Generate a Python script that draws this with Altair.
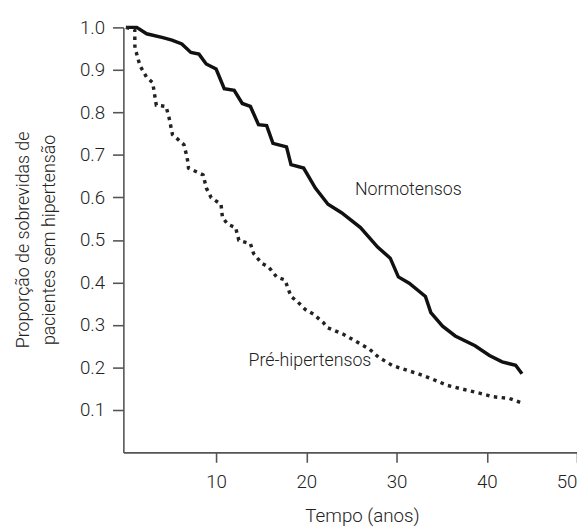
import altair as alt
import pandas as pd

# Normotensos: survival curve corner points (time in years, proportion)
normo_t = [0.0, 1.2, 2.3, 4.1, 5.1, 6.2, 7.2, 8.1, 8.9, 10.0, 10.9, 12.0, 12.9, 13.8, 14.7,
           15.6, 16.3, 17.8, 18.3, 19.7, 21.0, 22.4, 23.9, 26.0, 27.9, 29.3, 30.2, 31.4,
           33.2, 33.8, 35.1, 36.5, 38.7, 40.3, 41.7, 43.2, 43.9]
normo_s = [1.000, 1.000, 0.985, 0.976, 0.970, 0.961, 0.941, 0.937, 0.914, 0.902, 0.856,
           0.852, 0.821, 0.814, 0.771, 0.769, 0.727, 0.719, 0.677, 0.669, 0.622, 0.584,
           0.564, 0.529, 0.483, 0.457, 0.413, 0.398, 0.367, 0.329, 0.297, 0.274, 0.251,
           0.228, 0.213, 0.205, 0.185]

# Pré-hipertensos
pre_t = [0.0, 0.98, 1.0, 1.16, 1.56, 2.28, 2.97, 3.37, 4.45, 4.8, 5.16, 6.43, 6.79, 6.94,
         8.56, 8.92, 9.46, 10.54, 10.7, 11.27, 12.16, 12.52, 13.8, 14.15, 15.05, 15.77,
         16.1, 16.7, 17.6, 17.76, 18.3, 19.0, 19.9, 20.8, 21.9, 22.3, 24.1, 25.1, 27.0,
         28.0, 29.5, 30.6, 32.4, 33.8, 35.6, 37.1, 38.9, 40.7, 42.5, 43.9]
pre_s = [1.000, 0.994, 0.949, 0.940, 0.910, 0.883, 0.870, 0.817, 0.814, 0.786, 0.748,
         0.724, 0.694, 0.669, 0.653, 0.622, 0.599, 0.584, 0.553, 0.537, 0.529, 0.499,
         0.491, 0.468, 0.445, 0.437, 0.429, 0.413, 0.406, 0.398, 0.367, 0.355, 0.336,
         0.325, 0.305, 0.294, 0.278, 0.266, 0.243, 0.224, 0.205, 0.197, 0.185, 0.174,
         0.158, 0.150, 0.141, 0.131, 0.127, 0.116]

label_text = ["Normotensos", "Pré-hipertensos"]
label_t = [31.3, 20.4]
label_s = [0.617, 0.215]

x_ticks = [10, 20, 30, 40, 50]
y_ticks = [0.1, 0.2, 0.3, 0.4, 0.5, 0.6, 0.7, 0.8, 0.9, 1.0]

FONT = "Roboto, sans-serif"
W = 300
TXT = "#222"

normo_df = pd.DataFrame({"t": normo_t, "s": normo_s, "o": list(range(len(normo_t)))})
pre_df = pd.DataFrame({"t": pre_t, "s": pre_s, "o": list(range(len(pre_t)))})
lab_df = pd.DataFrame({"txt": label_text, "t": label_t, "s": label_s})

xs = alt.Scale(domain=[-0.28, 50], nice=False, zero=False)
ys = alt.Scale(domain=[0, 1], nice=False)

x_axis = alt.Axis(values=x_ticks, format="d", title="Tempo (anos)", grid=False,
                  tickSize=10, labelPadding=11, labelFlush=True, titleX=242, titleY=55,
                  titleBaseline="top", titleFontSize=19)
y_axis = alt.Axis(values=y_ticks, format=".1f",
                  title=["Proporção de sobrevidas de", "pacientes sem hipertensão"],
                  grid=False, tickSize=11, labelPadding=8, titleX=-92, titleY=215,
                  titleLineHeight=26, titleFontSize=18)

normo = alt.Chart(normo_df).mark_line(color="#111", strokeWidth=3.5).encode(
    x=alt.X("t:Q", scale=xs, axis=x_axis),
    y=alt.Y("s:Q", scale=ys, axis=y_axis),
    order="o:Q",
)
pre = alt.Chart(pre_df).mark_line(color="#222", strokeWidth=3.5,
                                  strokeDash=[3.5, 4.5]).encode(
    x=alt.X("t:Q", scale=xs),
    y=alt.Y("s:Q", scale=ys),
    order="o:Q",
)
labels = alt.Chart(lab_df).mark_text(font=FONT, fontSize=18, fontWeight=W,
                                     color=TXT).encode(
    x=alt.X("t:Q", scale=xs),
    y=alt.Y("s:Q", scale=ys),
    text="txt:N",
)

chart = (normo + pre + labels).properties(
    width=460, height=431,
    autosize=alt.AutoSizeParams(type="none"),
    padding={"left": 117, "top": 16, "right": 0, "bottom": 74},
).configure_view(stroke=None).configure_axis(
    labelFont=FONT, titleFont=FONT, labelFontSize=19,
    labelFontWeight=W, titleFontWeight=W,
    labelColor=TXT, titleColor=TXT,
    domainColor="#555", tickColor="#555", domainWidth=1.6, tickWidth=1.6,
)

chart.save("out.html", embed_options={"renderer": "svg", "actions": False})
